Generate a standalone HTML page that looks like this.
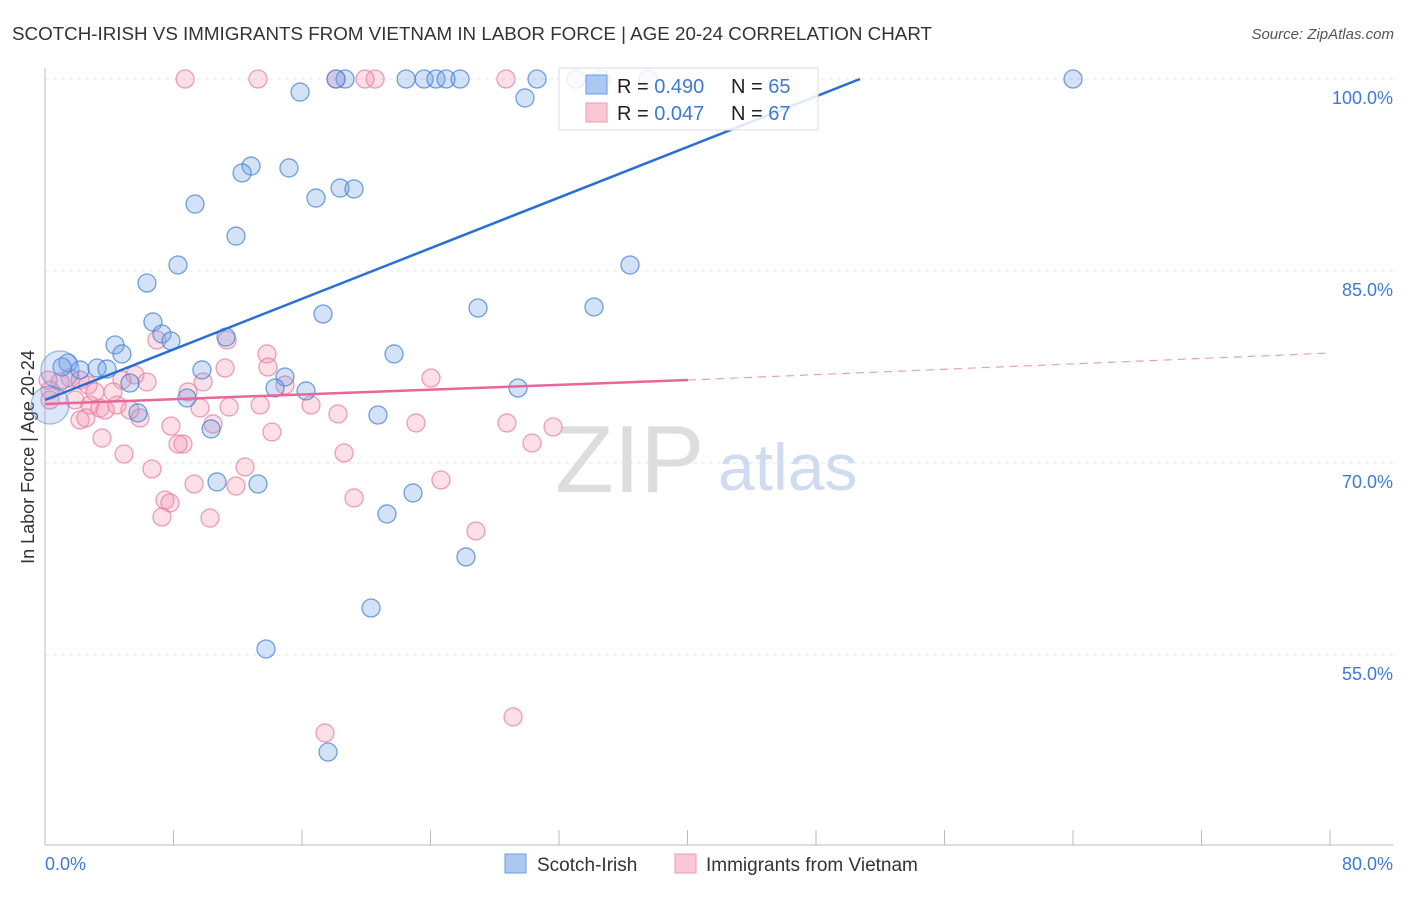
<!DOCTYPE html>
<html><head><meta charset="utf-8"><style>
body{margin:0;background:#fff;font-family:"Liberation Sans",sans-serif;}
svg text{font-family:"Liberation Sans",sans-serif;}
</style></head><body>
<svg width="1406" height="892" xmlns="http://www.w3.org/2000/svg">
<text x="12" y="40" font-size="18" fill="#333" textLength="920" lengthAdjust="spacingAndGlyphs">SCOTCH-IRISH VS IMMIGRANTS FROM VIETNAM IN LABOR FORCE | AGE 20-24 CORRELATION CHART</text>
<text x="1394" y="39" font-size="15" fill="#555" font-style="italic" text-anchor="end">Source: ZipAtlas.com</text>
<g id="grid"></g>
<text x="555" y="492" font-size="96" fill="#ddd" font-family="Liberation Serif">ZIP</text>
<text x="718" y="490" font-size="66" fill="#cfdcf0">atlas</text>
<text transform="translate(34,457) rotate(-90)" font-size="18" fill="#333" text-anchor="middle">In Labor Force | Age 20-24</text>
<g id="pts"></g>
<g id="lines"></g>
<g>
<rect x="559" y="68" width="259" height="62" fill="#fff" fill-opacity="0.85" stroke="#ddd"/>
<rect x="586" y="75" width="21" height="19" fill="#aac8f0" stroke="#6a9ee0"/>
<rect x="586" y="103" width="21" height="19" fill="#fbc9d6" stroke="#ee9ab2"/>
<text x="617" y="93" font-size="20" fill="#222">R = <tspan fill="#3d7ad8">0.490</tspan></text>
<text x="731" y="93" font-size="20" fill="#222">N = <tspan fill="#3d7ad8">65</tspan></text>
<text x="617" y="120" font-size="20" fill="#222">R = <tspan fill="#3d7ad8">0.047</tspan></text>
<text x="731" y="120" font-size="20" fill="#222">N = <tspan fill="#3d7ad8">67</tspan></text>
</g>
<g>
<rect x="505" y="854" width="21" height="19" fill="#aac8f0" stroke="#6a9ee0"/>
<text x="537" y="871" font-size="19" fill="#333">Scotch-Irish</text>
<rect x="675" y="854" width="21" height="19" fill="#fbc9d6" stroke="#ee9ab2"/>
<text x="706" y="871" font-size="19" fill="#333">Immigrants from Vietnam</text>
</g>
</svg>
<script>
const yTicks=[100,85,70,55];
const xTickLabels=["0.0%","80.0%"];
const blueX=[18.68,22.48,23.60,24.34,24.97,25.84,30.63,33.06,34.62,37.54,64.0,18.12,15.88,29.88,12.83,12.27,15.19,9.34,16.87,18.37,19.24,11.89,8.28,6.35,36.42,26.96,34.18,17.31,6.72,7.28,7.84,11.27,4.36,4.79,21.73,1.43,1.06,2.18,3.24,3.86,5.29,9.77,14.94,14.32,16.25,29.45,8.84,5.79,20.73,10.34,10.71,13.26,22.91,21.29,26.21,20.30,13.76,17.62];
const blueY=[100,100,100,100,100,100,100,100,100,100,100,100,98.98,98.52,93.2,92.66,93.05,90.23,90.7,91.48,91.41,87.73,85.47,84.06,85.47,82.11,82.19,81.64,81.02,80.08,79.53,79.84,79.22,78.52,78.52,77.81,77.5,77.27,77.42,77.34,76.25,77.27,76.72,75.86,75.63,75.86,75.08,73.91,73.75,72.66,68.52,68.36,67.66,66.02,62.66,58.67,55.47,47.42];
const blueBigX=[0.31,0.93];
const blueBigY=[74.53,77.27];
const pinkX=[8.72,13.26,18.12,20.55,28.70,19.92,6.97,11.33,13.82,13.88,5.60,1.56,2.18,0.93,0.31,2.68,4.79,6.35,1.87,2.80,3.42,4.48,3.74,5.29,3.11,4.23,8.90,9.65,11.46,13.39,16.56,18.24,14.94,9.84,11.21,24.03,2.18,2.55,5.91,7.84,10.46,3.55,4.92,6.66,8.59,8.28,12.45,14.13,18.62,23.10,28.76,31.63,30.32,7.47,7.78,9.28,11.89,24.65,19.24,7.28,10.27,26.83,17.43,29.14,0.31,0.19];
const pinkY=[100,100,100,100,100,100,79.61,79.61,78.52,77.5,76.88,76.64,76.48,76.33,75.70,76.09,76.48,76.33,74.92,74.53,74.30,74.53,74.14,74.14,75.55,75.55,75.55,74.30,74.38,74.53,74.53,73.83,76.09,76.33,77.42,76.64,73.36,73.52,73.52,72.89,73.05,71.95,70.70,69.53,71.48,71.48,69.69,72.42,70.78,73.13,73.13,72.81,71.56,67.11,66.88,68.36,68.20,68.67,67.27,65.78,65.70,64.69,48.91,50.16,74.92,76.48];
const blueTrend=[[0,74.92],[50.74,100]];
const pinkTrend=[[0,74.61],[40.03,76.48]];
const pinkDash=[[40.03,76.48],[80,78.59]];
const NS="http://www.w3.org/2000/svg";
function sx(v){return 45+v*1285/80;}
function sy(v){return 79+(100-v)*192/15;}
function mk(t,a,p){const e=document.createElementNS(NS,t);for(const k in a)e.setAttribute(k,a[k]);p.appendChild(e);return e;}
const grid=document.getElementById('grid');
yTicks.forEach(t=>{
 const l=mk('line',{x1:45,x2:1393,y1:sy(t),y2:sy(t),stroke:'#e6e6e6','stroke-dasharray':'4,4'},grid);
 
 
 const tx=mk('text',{x:1393,y:sy(t)+25,'font-size':18,fill:'#3d7ad8','text-anchor':'end'},grid);
 tx.textContent=t.toFixed(1)+'%';
 
 
});
const ax=mk('line',{x1:45,x2:45,y1:68,y2:845,stroke:'#bbb'},grid);


const bx=mk('line',{x1:45,x2:1393,y1:845,y2:845,stroke:'#bbb'},grid);


for(let i=0;i<=10;i++){
 const t=mk('line',{x1:sx(i*8),x2:sx(i*8),y1:830,y2:845,stroke:'#bbb'},grid);
 
 
}
[[0,'start',45],[80,'end',1393]].forEach((d,i)=>{
 const tx=mk('text',{x:d[2],y:870,'font-size':18,fill:'#3d7ad8','text-anchor':d[1]},grid);
 tx.textContent=xTickLabels[i];
 
 
});
const pts=document.getElementById('pts');
pinkX.forEach((x,i)=>{
 const c=mk('circle',{cx:sx(x),cy:sy(pinkY[i]),r:9,fill:'rgba(245,150,175,0.3)',stroke:'rgba(232,120,155,0.7)','stroke-width':1.3},pts);
 
 
});
blueX.forEach((x,i)=>{
 const c=mk('circle',{cx:sx(x),cy:sy(blueY[i]),r:9,fill:'rgba(110,160,230,0.3)',stroke:'rgba(70,130,215,0.75)','stroke-width':1.3},pts);
 
 
});
blueBigX.forEach((x,i)=>{
 const c=mk('circle',{cx:sx(x),cy:sy(blueBigY[i]),r:19,fill:'rgba(110,160,230,0.25)',stroke:'rgba(70,130,215,0.5)','stroke-width':1.3},pts);
 
 
});
const lines=document.getElementById('lines');
const bl=mk('line',{x1:sx(blueTrend[0][0]),y1:sy(blueTrend[0][1]),x2:sx(blueTrend[1][0]),y2:sy(blueTrend[1][1]),stroke:'#2a6fd6','stroke-width':2.5},lines);


const pl=mk('line',{x1:sx(pinkTrend[0][0]),y1:sy(pinkTrend[0][1]),x2:sx(pinkTrend[1][0]),y2:sy(pinkTrend[1][1]),stroke:'#e8679a','stroke-width':2.5},lines);


const pd=mk('line',{x1:sx(pinkDash[0][0]),y1:sy(pinkDash[0][1]),x2:sx(pinkDash[1][0]),y2:sy(pinkDash[1][1]),stroke:'#e8a0b8','stroke-width':1.2,'stroke-dasharray':'8,6'},lines);


</script>
</body></html>
